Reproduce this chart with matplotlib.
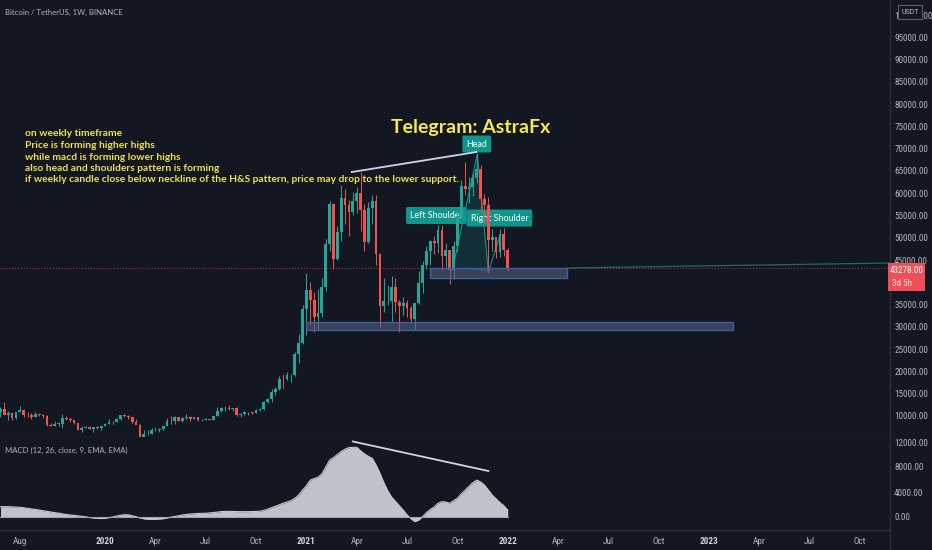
import numpy as np
import pandas as pd
import matplotlib
matplotlib.use("Agg")
import matplotlib.pyplot as plt
import matplotlib.dates as mdates
from matplotlib import font_manager
from matplotlib.patches import Rectangle, Polygon
from matplotlib.lines import Line2D

# weekly candles BTCUSDT (Binance), first bar = week of 2019-07-01
opens = [10800, 11450, 10200, 10550, 9500, 10800, 11380, 10230, 10140, 9760,
         10380, 10300, 10030, 8050, 7850, 8300, 8200, 9550, 9200, 9050,
         8500, 6900, 7400, 7500, 7080, 7500, 7400, 7760, 8180, 8700,
         8600, 9380, 10150, 9900, 9650, 8530, 8030, 5350, 5850, 5880,
         6780, 6900, 7100, 7700, 8900, 8750, 9700, 8900, 9450, 9750,
         9350, 9700, 9050, 9070, 9250, 9150, 9950, 11100, 11680, 11850,
         11650, 11700, 10250, 10330, 10930, 10770, 10660, 11380, 11500, 13030,
         13750, 15480, 16000, 18400, 18200, 19150, 19270, 23850, 26300, 34000,
         38200, 36000, 32300, 33100, 38900, 48600, 57500, 45200, 51200, 59000,
         57300, 55800, 58200, 60000, 56200, 49100, 56600, 58200, 46400, 34700,
         35700, 35800, 39000, 35500, 34700, 35300, 34250, 31800, 35400, 39850,
         43800, 47000, 49300, 48800, 51750, 46000, 47250, 42800, 48200, 54650,
         61550, 60850, 61300, 63300, 65500, 58600, 57300, 49400, 50100, 46700,
         50800, 47300]
highs = [12000, 13200, 11000, 10650, 10950, 12300, 11450, 10950, 10600, 10950,
         10450, 10350, 10100, 8500, 8800, 8450, 10500, 9950, 9500, 9100,
         8500, 7850, 7850, 7650, 7500, 7700, 7550, 8450, 9200, 8800,
         9600, 10150, 10500, 10250, 9700, 9200, 8150, 6900, 6850, 7300,
         7450, 7300, 7700, 9450, 10050, 9950, 9850, 9750, 10400, 9950,
         9800, 9780, 9300, 9450, 9350, 10050, 12100, 12050, 12150, 12480,
         11800, 12100, 10600, 11100, 10990, 10950, 11500, 11720, 13350, 14100,
         15950, 16500, 19000, 19500, 19900, 19400, 24300, 28400, 34800, 42000,
         40100, 37850, 38500, 41000, 49700, 58350, 57500, 52650, 61800, 60900,
         58450, 60200, 61300, 64850, 57500, 58000, 59600, 59600, 46600, 40900,
         39500, 41300, 41000, 36000, 36600, 35950, 34700, 35400, 42600, 44800,
         48150, 49400, 50500, 52900, 52900, 48800, 47300, 49200, 56600, 62900,
         67000, 63700, 64300, 69000, 66400, 59900, 59200, 51950, 50100, 52000,
         52100, 47600]
lows = [9650, 11000, 9100, 9150, 9400, 10800, 9850, 9750, 9350, 9750,
        9950, 9600, 7700, 7750, 7800, 7850, 7300, 9000, 8700, 8300,
        6800, 6500, 7250, 7050, 6430, 7100, 6850, 7700, 8100, 8250,
        8550, 9100, 9700, 9300, 8450, 8400, 3800, 4450, 5700, 5850,
        6700, 6450, 6750, 7650, 8100, 8200, 8800, 8650, 9300, 8900,
        9250, 8850, 8900, 9050, 9000, 9100, 9900, 10950, 11100, 11300,
        11150, 9900, 9850, 10200, 10150, 10380, 10550, 11200, 11400, 12900,
        13200, 14800, 15800, 16200, 18100, 17600, 19000, 21800, 26100, 28100,
        30400, 28800, 29200, 32300, 38000, 47000, 43000, 45000, 49300, 53000,
        50400, 55200, 55500, 51500, 47000, 48800, 53000, 43800, 30000, 33400,
        34800, 31000, 33300, 28800, 32700, 32100, 31100, 29300, 35200, 37500,
        43000, 43900, 46300, 46500, 42800, 43400, 39600, 40750, 46900, 54400,
        59500, 57800, 59400, 62300, 55600, 53250, 42000, 47100, 45500, 45600,
        45900, 42500]
closes = [11450, 10200, 10550, 9500, 10800, 11380, 10230, 10140, 9760, 10380,
          10300, 10030, 8050, 7850, 8300, 8200, 9550, 9200, 9050, 8500,
          6900, 7400, 7500, 7080, 7500, 7400, 7760, 8180, 8700, 8600,
          9380, 10150, 9900, 9650, 8530, 8030, 5350, 5850, 5880, 6780,
          6900, 7100, 7700, 8900, 8750, 9700, 8900, 9450, 9750, 9350,
          9700, 9050, 9070, 9250, 9150, 9950, 11100, 11680, 11850, 11650,
          11700, 10250, 10330, 10930, 10770, 10660, 11380, 11500, 13030, 13750,
          15480, 16000, 18400, 18200, 19150, 19270, 23850, 26300, 34000, 38200,
          36000, 32300, 33100, 38900, 48600, 57500, 45200, 51200, 59000, 57300,
          55800, 58200, 60000, 56200, 49100, 56600, 58200, 46400, 34700, 35700,
          35800, 39000, 35500, 34700, 35300, 34250, 31800, 35400, 39850, 43800,
          47000, 49300, 48800, 51750, 46000, 47250, 42800, 48200, 54650, 61550,
          60850, 61300, 63300, 65500, 58600, 57300, 49400, 50100, 46700, 50800,
          47300, 43278]

macd = [1650, 1650, 1650, 1620, 1580, 1550, 1480, 1380, 1300, 1200,
        1120, 1000, 900, 800, 700, 620, 500, 400, 330, 250,
        180, 100, 20, -80, -150, -220, -250, -200, -100, 0,
        150, 280, 370, 350, 200, 50, -150, -280, -350, -370,
        -360, -320, -270, -150, -30, 80, 200, 320, 400, 480,
        520, 560, 580, 600, 650, 720, 800, 860, 900, 900,
        880, 860, 850, 850, 860, 870, 900, 920, 1050, 1250,
        1500, 1720, 1950, 2200, 2400, 2600, 3000, 3500, 4300, 5000,
        5900, 6150, 6350, 6900, 8000, 9100, 9500, 10000, 10500, 10850,
        11100, 11150, 11150, 10600, 10100, 9700, 9400, 8300, 7000, 5500,
        4200, 3200, 2500, 1800, 1100, 320, -250, -750, -500, 50,
        700, 1200, 1600, 2200, 2450, 2400, 2200, 2600, 3000, 3700,
        4300, 4900, 5500, 5900, 5600, 5100, 4300, 3500, 2900, 2300,
        1800, 1100]

last_price = 43278
# 40000 sits under the last-price tag, so it is left out
price_ticks = [v for v in range(10000, 100001, 5000) if v != 40000]
macd_ticks = [0, 4000, 8000, 12000]
tick_months = ["2019-08", "2020-01", "2020-04", "2020-07", "2020-10",
               "2021-01", "2021-04", "2021-07", "2021-10", "2022-01",
               "2022-04", "2022-07", "2022-10", "2023-01", "2023-04",
               "2023-07", "2023-10"]

notes = ["on weekly timeframe",
         "Price is forming higher highs",
         "while macd is forming lower highs",
         "also head and shoulders pattern is forming",
         "if weekly candle close below neckline of the H&S pattern, price may drop to the lower support."]

BG = "#131722"
SEP = "#2a2e39"
TXT = "#b2b5be"
UP = "#26a69a"
DOWN = "#ef5350"
YEL = "#efe14a"
TEAL = "#10958a"
W, H = 932, 550

names = {f.name for f in font_manager.fontManager.ttflist}
if "Roboto Condensed" in names:
    axis_font, axis_size = "Roboto Condensed", 6.6
elif "Liberation Sans Narrow" in names:
    axis_font, axis_size = "Liberation Sans Narrow", 6.8
else:
    axis_font, axis_size = "DejaVu Sans", 5.3

plt.rcParams["font.family"] = ["Lato", "DejaVu Sans"]

fig = plt.figure(figsize=(W / 100, H / 100), dpi=100, facecolor=BG)
ax = fig.add_axes([0, 113 / H, 890 / W, 437 / H], facecolor=BG)
ax2 = fig.add_axes([0, 20 / H, 890 / W, 93 / H], facecolor=BG, sharex=ax)

dates = pd.date_range("2019-07-01", periods=len(closes), freq="7D")
x = mdates.date2num(dates)
o = np.array(opens, float)
c = np.array(closes, float)
hi = np.array(highs, float)
lo = np.array(lows, float)
cols = [UP if cc >= oo else DOWN for oo, cc in zip(o, c)]

# candles
ax.vlines(x, lo, hi, colors=cols, lw=0.7, zorder=3)
body = np.maximum(np.abs(c - o), 120)
ax.bar(x, body, bottom=np.minimum(o, c), width=5.0, color=cols, lw=0, zorder=3)

px_day = 3.872 / 7
x0 = x[0] - 0.9
x1 = x0 + 890 / px_day
ax.set_xlim(x0, x1)
ax.set_ylim(5270, 103370)

def d(s):
    return mdates.date2num(pd.Timestamp(s))

# support zones
ax.add_patch(Rectangle((d("2021-08-15"), 40960), d("2022-04-20") - d("2021-08-15"), 2240,
                       fc=(0.36, 0.40, 0.50, 0.55), ec="#3f5cae", lw=1.0, zorder=4))
ax.add_patch(Rectangle((d("2021-01-03"), 29290), d("2023-02-14") - d("2021-01-03"), 1790,
                       fc=(0.36, 0.40, 0.50, 0.55), ec="#3f5cae", lw=1.0, zorder=4))

# head & shoulders drawing
hs = [(d("2021-09-26"), 43430), (d("2021-11-09"), 68790), (d("2021-11-29"), 42300)]
ax.add_patch(Polygon(hs, closed=False, fc=(0.06, 0.58, 0.54, 0.2), ec=TEAL, lw=0.8, zorder=2))
ax.plot([d("2021-11-29"), d("2021-12-20")], [42300, 50500], color=TEAL, lw=0.8, zorder=2)

# last price line and trend line to the right
ax.axhline(last_price, color="#c2384a", lw=0.7, ls=(0, (1, 2)), zorder=2)
ax.plot([d("2022-04-20"), x1], [43200, 44330], color="#1d6b66", lw=0.9, zorder=2)

# divergence line on price
ax.plot([d("2021-03-27"), d("2021-11-07")], [64750, 69240], color="#cfd3ea", lw=1.3, zorder=5)

lbl = dict(color="white", fontsize=6.4, ha="center", va="center", zorder=2.5)
box = dict(boxstyle="round,pad=0.45,rounding_size=0.2", fc=TEAL, ec="none")
ax.text(d("2021-11-08"), 71040, "Head", bbox=box, **lbl)
ax.text(d("2021-08-27"), 54990, "Left Shoulder", bbox=box, **lbl)
ax.text(d("2021-12-19"), 54430, "Right Shoulder", bbox=box, **lbl)

ax.text(471 / 890, 1 - 127 / 437, "Telegram: AstraFx", transform=ax.transAxes, color="#f5e94e",
        fontsize=14, fontweight="bold", ha="center", va="center", zorder=6)
for i, line in enumerate(notes):
    ax.text(25 / 890, 1 - (134 + i * 11.5) / 437, line, transform=ax.transAxes, color=YEL,
            fontsize=7.4, fontweight="bold", ha="left", va="center", zorder=6)
ax.text(5 / 890, 1 - 12 / 437, "Bitcoin / TetherUS, 1W, BINANCE", transform=ax.transAxes,
        color=TXT, fontsize=5.6, ha="left", va="center")

# MACD pane
ax2.fill_between(x, macd, 0, color="#bfc2c9", lw=0, zorder=2)
ax2.plot(x, macd, color="#c8cbd2", lw=0.8, zorder=2)
ax2.plot([x[0], x[-1]], [0, 0], color="#a0a3ab", lw=0.8, zorder=2)
ax2.plot([d("2021-03-29"), d("2021-11-29")], [12080, 7360], color="#cfd3ea", lw=1.3, zorder=5)
ax2.set_ylim(-2080, 12800)
ax2.text(5 / 890, 1 - 13 / 93, "MACD (12, 26, close, 9, EMA, EMA)", transform=ax2.transAxes,
         color=TXT, fontsize=5.6, ha="left", va="center")

# axes styling
for a in (ax, ax2):
    a.yaxis.tick_right()
    a.tick_params(axis="y", length=0, pad=3, labelcolor=TXT, labelsize=axis_size)
    for s in ("top", "left"):
        a.spines[s].set_visible(False)
    for s in ("right", "bottom"):
        a.spines[s].set_color(SEP)
        a.spines[s].set_linewidth(1)
ax.set_yticks(price_ticks)
ax.set_yticklabels([f"{v:.2f}" for v in price_ticks], fontfamily=axis_font)
ax2.set_yticks(macd_ticks)
ax2.set_yticklabels([f"{v:.2f}" for v in macd_ticks], fontfamily=axis_font)
ax.tick_params(axis="x", bottom=False, labelbottom=False)

tpos, tlab = [], []
for m in tick_months:
    t = pd.Timestamp(m + "-01")
    t = t + pd.Timedelta(days=(7 - t.weekday()) % 7)
    tpos.append(mdates.date2num(t))
    tlab.append(str(t.year) if t.month == 1 else t.strftime("%b"))
ax2.set_xticks(tpos)
ax2.set_xticklabels(tlab, fontfamily=axis_font)
ax2.tick_params(axis="x", length=0, pad=5, labelcolor=TXT, labelsize=axis_size)
for t in ax2.get_xticklabels():
    if t.get_text().isdigit():
        t.set_fontweight("bold")
        t.set_color("#d1d4dc")

fig.add_artist(Line2D([890 / W, 890 / W], [0, 20 / H], transform=fig.transFigure, color=SEP, lw=1))

# last price tag
fig.add_artist(Rectangle((888 / W, 1 - 291 / H), 37 / W, 28 / H, transform=fig.transFigure,
                         fc="#f04f58", ec="none", zorder=5))
fig.text(907 / W, 1 - 270 / H, f"{last_price:.2f}", color="white", fontsize=axis_size,
         fontfamily=axis_font, ha="center", va="center", zorder=6)
fig.text(892 / W, 1 - 283 / H, "3d 5h", color="#ffe0e0", fontsize=axis_size,
         fontfamily=axis_font, ha="left", va="center", zorder=6)

# currency tag
fig.add_artist(Rectangle((898 / W, 1 - 19 / H), 24 / W, 14 / H, transform=fig.transFigure,
                         fc=BG, ec="#5d606b", lw=0.8, zorder=5))
fig.text(910 / W, 1 - 12 / H, "USDT", color=TXT, fontsize=axis_size - 0.8,
         fontfamily=axis_font, ha="center", va="center", zorder=6)

fig.savefig("out.png", dpi=100, facecolor=BG)
